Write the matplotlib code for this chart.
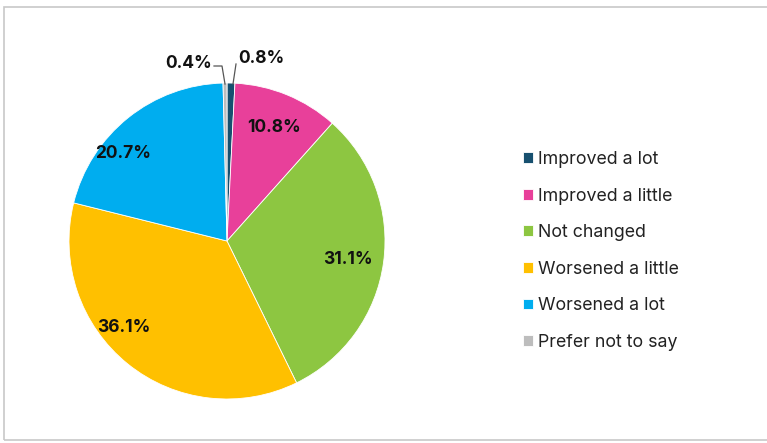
import matplotlib

matplotlib.use("Agg")
import matplotlib.pyplot as plt
from matplotlib.patches import Rectangle
import numpy as np

categories = ["Improved a lot", "Improved a little", "Not changed",
              "Worsened a little", "Worsened a lot", "Prefer not to say"]
shares = [0.8, 10.8, 31.1, 36.1, 20.7, 0.4]
colors = ["#17506f", "#e8409a", "#8dc641", "#ffc000", "#00adef", "#bdbdbd"]

# label anchor points (angle offset in degrees, radius in px) for the big slices
label_pos = {1: (0, 123), 2: (-1, 122), 3: (-11, 135), 4: (11, 136)}

plt.rcParams["font.family"] = ["Inter", "DejaVu Sans"]

W, H = 767, 443
fig = plt.figure(figsize=(W / 100, H / 100), dpi=100)
ax = fig.add_axes([0, 0, 1, 1])

# outer frame
ax.add_patch(Rectangle((4, 3), W, H - 10, fill=False, edgecolor="#c8c8c8", linewidth=1.2))

cx, cy, r = 227, H - 241, 158
wedges, _ = ax.pie(shares, colors=colors, startangle=90, counterclock=False,
                   center=(cx, cy), radius=r, frame=True,
                   wedgeprops=dict(edgecolor="white", linewidth=0.6))
ax.set_xlim(0, W)
ax.set_ylim(0, H)
ax.set_aspect("equal")
ax.axis("off")

total = sum(shares)
cum = np.cumsum([0] + shares)
for i, v in enumerate(shares):
    if i not in label_pos:
        continue
    mid = 90 - (cum[i] + v / 2) / total * 360
    off, rad = label_pos[i]
    a = np.radians(mid + off)
    ax.text(cx + rad * np.cos(a), cy + rad * np.sin(a), f"{v:.1f}%",
            ha="center", va="center", fontsize=12.5, fontweight="bold", color="#111111")

# small slices get leader lines
ax.plot([233, 236], [H - 84, H - 64], color="#555555", lw=0.9)
ax.text(238, H - 58, f"{shares[0]:.1f}%", ha="left", va="center",
        fontsize=12.5, fontweight="bold", color="#111111")
ax.plot([225, 222, 214], [H - 84, H - 66, H - 66], color="#555555", lw=0.9)
ax.text(212, H - 63, f"{shares[5]:.1f}%", ha="right", va="center",
        fontsize=12.5, fontweight="bold", color="#111111")

ax.legend(wedges, categories, loc="upper left", bbox_to_anchor=(507 / W, 1 - 135 / H),
          frameon=False, fontsize=12.8, handlelength=0.55, handleheight=0.55,
          handletextpad=0.3, labelspacing=1.1, labelcolor="#222222")

fig.savefig("out.png", dpi=100)
